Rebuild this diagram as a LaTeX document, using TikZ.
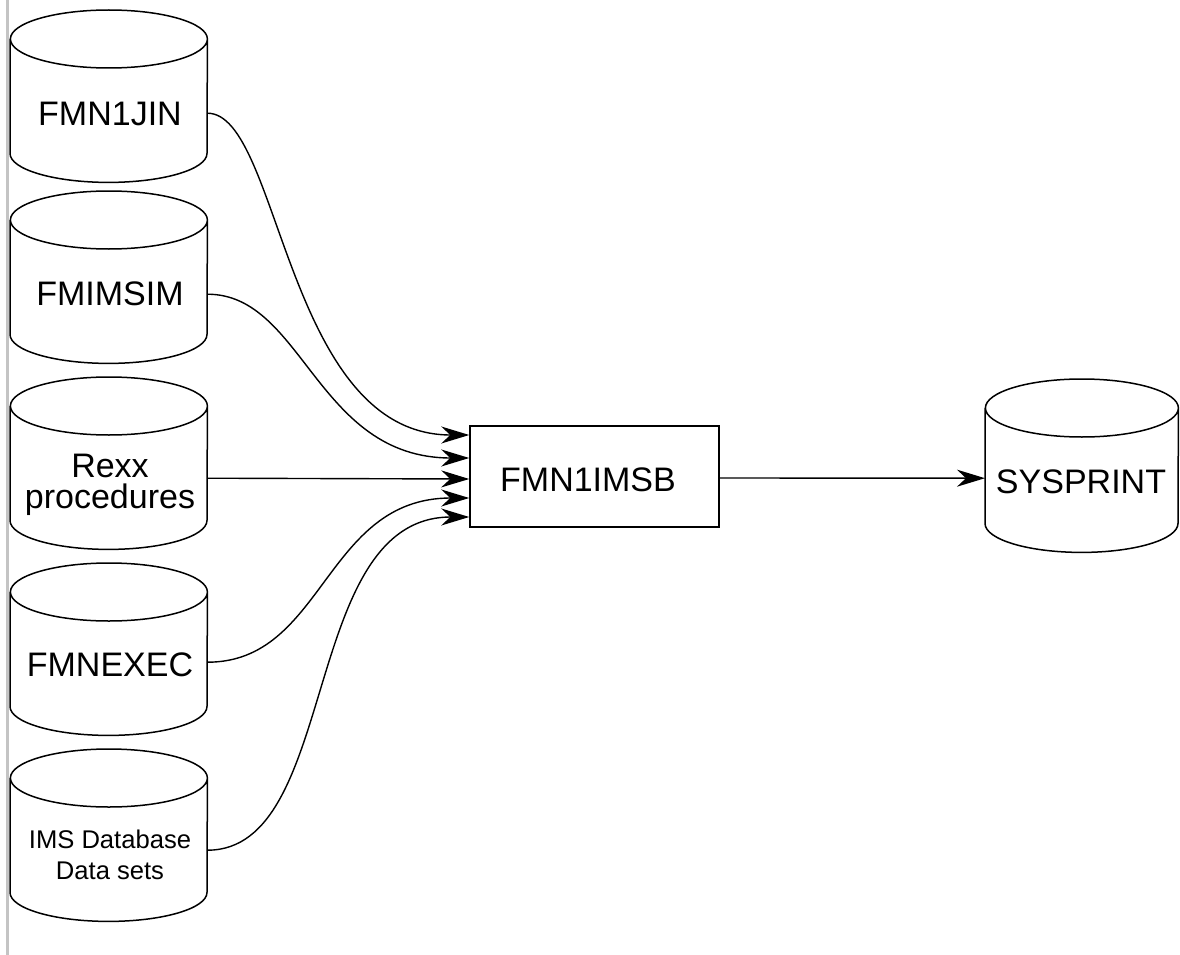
\documentclass[tikz,border=0pt]{standalone}
\usepackage{fontspec}
\setmainfont{Liberation Sans}
\usetikzlibrary{arrows.meta}
\definecolor{barcol}{RGB}{196,196,196}
\newcommand{\cylout}[2]{% node name, x radius
  \draw[cylline] ([yshift=-29pt]#1.north west) -- ([yshift=29pt]#1.south west)
    arc[start angle=180,end angle=0,x radius=#2,y radius=29]
    -- ([yshift=-29pt]#1.north east)
    arc[start angle=0,end angle=-180,x radius=#2,y radius=29]
    arc[start angle=180,end angle=0,x radius=#2,y radius=29];}
\tikzset{
  cylbox/.style={draw=none, inner sep=0pt, minimum width=197pt, minimum height=172pt, anchor=north west},
  cylline/.style={line width=1.5pt, black},
  lbl/.style={font=\fontsize{34}{31}\selectfont, align=center, inner sep=0pt},
  smalllbl/.style={font=\fontsize{25.6}{30.7}\selectfont, align=center, inner sep=0pt},
  procbox/.style={draw, line width=1.5pt, minimum width=249pt, minimum height=101pt, inner sep=0pt},
  arr/.style={line width=1.4pt, -{Stealth[length=28pt,width=17pt,inset=9pt]}},
}
\begin{document}
\begin{tikzpicture}[x=1pt,y=-1pt]
\useasboundingbox (0,0) rectangle (1180,955);
% grey bar at the left
\draw[barcol, line width=3pt] (7.5,0) -- (7.5,955);

% cylinders
\node[cylbox] (c1) at (10,10) {};
\node[cylbox] (c2) at (10,191) {};
\node[cylbox] (c3) at (10,377) {};
\node[cylbox] (c4) at (10,563) {};
\node[cylbox] (c5) at (10,749) {};
\node[cylbox, minimum width=193pt, minimum height=173pt] (s) at (985,379) {};
\cylout{c1}{98.5}
\cylout{c2}{98.5}
\cylout{c3}{98.5}
\cylout{c4}{98.5}
\cylout{c5}{98.5}
\cylout{s}{96.5}

% labels
\node[lbl] (t1) at (110,114) {FMN1JIN};
\node[lbl] (t2) at (110,294) {FMIMSIM};
\node[lbl] (t3) at (110,485) {Rexx\\procedures};
\node[lbl] (t4) at (110,665) {FMNEXEC};
\node[smalllbl] (t5) at (110,855) {IMS Database\\Data sets};
\node[lbl] (ts) at (1081,481.5) {SYSPRINT};

% process box
\node[procbox] (p) at (594.5,476.5) {};
\node[lbl] (tp) at (588,480) {FMN1IMSB};

% connectors
\draw[arr] ([yshift=-17pt]c1.east) .. controls +(73,0) and +(-184,0) .. ([yshift=41.5pt]p.west);
\draw[arr] ([yshift=-17pt]c2.east) .. controls +(96,0) and +(-153,0) .. ([yshift=18.5pt]p.west);
\draw[arr] ([yshift=-15pt]c3.east) -- ([yshift=-2.5pt]p.west);
\draw[arr] ([yshift=-13pt]c4.east) .. controls +(117,0) and +(-145,0) .. ([yshift=-21.5pt]p.west);
\draw[arr] ([yshift=-15pt]c5.east) .. controls +(133,0) and +(-170,0) .. ([yshift=-40.5pt]p.west);
\draw[arr] ([yshift=-1.5pt]p.east) -- ([yshift=-12.5pt]s.west);
\end{tikzpicture}
\end{document}
